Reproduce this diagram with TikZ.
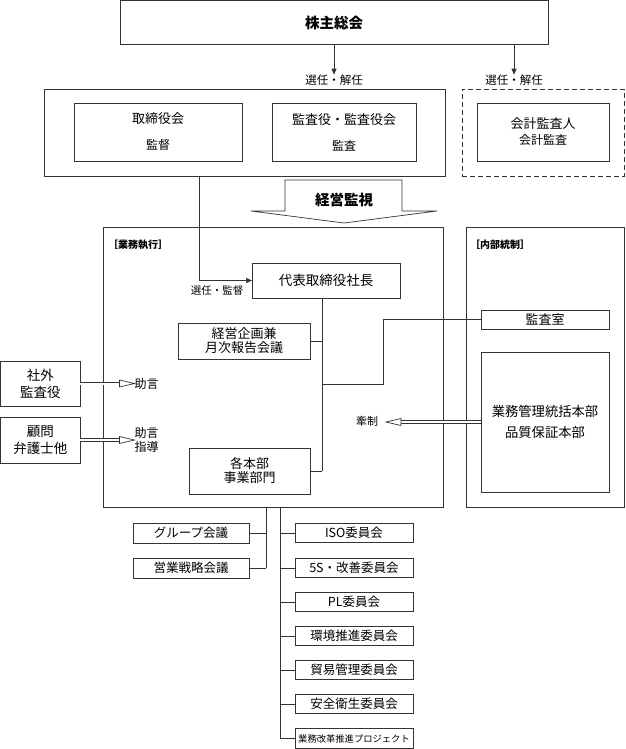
\documentclass[tikz,border=0pt]{standalone}
\usepackage{fontspec}
\setmainfont{Noto Sans CJK JP}
\usetikzlibrary{arrows.meta,calc}
\newcommand\fs[2]{\fontsize{#1}{#2}\selectfont}
\newcommand\dblarrow[3]{%
  \draw[ln, double, double distance=2pt] (#1) -- ($(#2)+(-14*#3,0)$);
  \draw[ln, fill=white] ($(#2)+(-15*#3,-3.5)$) -- (#2) -- ($(#2)+(-15*#3,3.5)$) -- cycle;}
\tikzset{
  ln/.style={draw=black!80, line width=0.7pt},
  bx/.style={ln, rectangle, inner sep=0pt, outer sep=0pt, align=center, fill=white},
  lbl/.style={inner sep=0pt, outer sep=0pt, align=center},
  arr/.style={ln, -{Triangle[length=6pt,width=5pt]}},
  cmtebox/.style={bx, minimum width=118pt, minimum height=19.5pt, font=\fs{12.5}{14}},
  leftbox/.style={bx, minimum width=116pt, minimum height=20pt, font=\fs{12.5}{14}},
}
\begin{document}
\begin{tikzpicture}[x=1pt,y=-1pt]
\useasboundingbox (0,0) rectangle (625,749);

% top
\node[bx, minimum width=428pt, minimum height=44pt, font=\fs{14.5}{16}\bfseries] (soukai) at (334,22.5) {株主総会};
\node[lbl, font=\fs{11.5}{13}] (sen1) at (334,80) {選任・解任};
\node[lbl, font=\fs{11.5}{13}] (sen2) at (514,80) {選任・解任};
\draw[arr] (soukai.south -| sen1) -- (sen1.north);
\draw[arr] (soukai.south -| sen2) -- (sen2.north);

% board
\node[bx, minimum width=401pt, minimum height=87pt] (board) at (244.5,132.5) {};
\node[bx, minimum width=168pt, minimum height=58pt, font=\fs{13}{15}] (tori) at (158,132) {取締役会\\[11pt]{\fs{12}{14}監督}};
\node[bx, minimum width=144pt, minimum height=58pt, font=\fs{13}{15}] (kansa) at (344,132) {監査役・監査役会\\[11pt]{\fs{12}{14}監査}};
\node[bx, dash pattern=on 5pt off 3pt, minimum width=162pt, minimum height=87pt] (dash) at (543,132.5) {};
\node[bx, minimum width=132pt, minimum height=58pt, font=\fs{13}{15}] (kaikei) at (543,132) {会計監査人\\[1pt]{\fs{12}{14}会計監査}};

% keiei kanshi arrow
\draw[ln, fill=white] (285,180) -- (402,180) -- (402,211) -- (437,211) -- (344,223) -- (251,211) -- (285,211) -- cycle;
\node[lbl, font=\fs{14.5}{16}\bfseries] (kanshi) at (344,200) {経営監視};

% main frames
\node[bx, fill=none, minimum width=340pt, minimum height=280pt] (gyomu) at (273,367) {};
\node[lbl, anchor=west, font=\fs{10}{12}\bfseries] (gl) at (108,245) {［業務執行］};
\node[bx, fill=none, minimum width=158pt, minimum height=280pt] (naibu) at (545,367) {};
\node[lbl, anchor=west, font=\fs{10}{12}\bfseries] (nl) at (470,245) {［内部統制］};

% president
\node[bx, minimum width=148pt, minimum height=35pt, font=\fs{13.5}{15}] (daihyo) at (326,280.5) {代表取締役社長};
\coordinate (c1) at (199,176);
\draw[arr] (c1) |- (daihyo.west);
\node[lbl, font=\fs{10.5}{12}] (senkan) at (217,291) {選任・監督};

\node[bx, minimum width=132pt, minimum height=36pt, font=\fs{13}{14}] (keiei) at (244,341) {経営企画兼\\月次報告会議};
\node[bx, minimum width=121pt, minimum height=46pt, font=\fs{13}{14}] (kakuhon) at (249.5,471) {各本部\\事業部門};
\coordinate (tr) at (322,298);
\draw[ln] (tr) -- (tr |- kakuhon.east);
\draw[ln] (keiei.east) -- (keiei.east -| tr);
\draw[ln] (kakuhon.east) -- (kakuhon.east -| tr);

% internal control
\node[bx, minimum width=128pt, minimum height=19pt, font=\fs{13}{15}] (kshitsu) at (545,319.5) {監査室};
\coordinate (j1) at (322,384);
\coordinate (j2) at (383,384);
\draw[ln] (j1) -- (j2) |- (kshitsu.west);
\node[bx, minimum width=128pt, minimum height=140pt, font=\fs{13.3}{15}] (hin) at (545,422) {業務管理統括本部\\[6pt]品質保証本部};
\node[lbl, font=\fs{11}{13}] (kensei) at (367,421) {牽制};
\coordinate (kt) at (386,422);
\dblarrow{hin.west}{kt}{-1}

% outside advisors
\node[bx, minimum width=79.5pt, minimum height=45pt, font=\fs{13.5}{17}] (shagai) at (40.25,383.5) {社外\\監査役};
\node[bx, minimum width=79.5pt, minimum height=46pt, font=\fs{13.5}{17}] (komon) at (40.25,440) {顧問\\弁護士他};
\node[lbl, anchor=west, font=\fs{12}{14}] (jg1) at (134.5,384) {助言};
\node[lbl, anchor=west, font=\fs{12}{14}] (jg2) at (134.5,440) {助言\\指導};
\coordinate (t1) at (shagai.east -| jg1.west);
\coordinate (t2) at (komon.east -| jg2.west);
\dblarrow{shagai.east}{t1}{1}
\dblarrow{komon.east}{t2}{1}

% bottom committees
\coordinate (b1) at (266,507);
\coordinate (b2) at (280,507);
\node[leftbox] (group) at (191,533) {グループ会議};
\node[leftbox] (eigyo) at (191,568) {営業戦略会議};
\node[cmtebox] (iso) at (354,533) {ISO委員会};
\node[cmtebox] (s5) at (354,568) {5S・改善委員会};
\node[cmtebox] (pl) at (354,602) {PL委員会};
\node[cmtebox] (kankyo) at (354,636) {環境推進委員会};
\node[cmtebox] (boeki) at (354,670) {貿易管理委員会};
\node[cmtebox] (anzen) at (354,704) {安全衛生委員会};
\node[cmtebox, font=\fs{9.3}{11}] (proj) at (354,738.5) {業務改革推進プロジェクト};
\draw[ln] (b1) -- (b1 |- eigyo.east);
\draw[ln] (group.east) -- (group.east -| b1);
\draw[ln] (eigyo.east) -- (eigyo.east -| b1);
\draw[ln] (b2) -- (b2 |- proj.west);
\foreach \n in {iso,s5,pl,kankyo,boeki,anzen,proj} \draw[ln] (\n.west) -- (\n.west -| b2);
\end{tikzpicture}
\end{document}
